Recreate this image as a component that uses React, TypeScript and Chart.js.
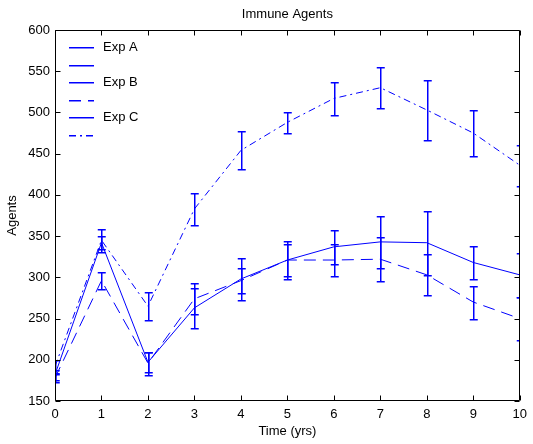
import React, { useEffect, useRef } from "react";
import { Chart, registerables } from "chart.js";

Chart.register(...registerables);

const years = [0, 1, 2, 3, 4, 5, 6, 7, 8, 9, 10];
const expA = [182, 342, 197, 263, 298, 321, 337, 343, 342, 318, 303];
const expAErr = [6, 8, 12, 24, 25, 23, 21, 32, 39, 20, 27];
const expB = [178, 296, 196, 274, 296, 321, 321, 322, 303, 270, 250];
const expBErr = [5, 10, 14, 19, 15, 19, 19, 27, 25, 20, 26];
const expC = [192, 345, 265, 383, 454, 488, 517, 530, 503, 475, 436];
const expCErr = [8, 14, 17, 19, 23, 13, 20, 25, 36, 28, 25];
const legendLabels = ["Exp A", "", "Exp B", "", "Exp C", ""];
const titleText = "Immune Agents";
const xTitle = "Time (yrs)";
const yTitle = "Agents";

const BLUE = "#0000ff";
const FONT = "'Liberation Sans', Arial, sans-serif";
const DASHED = [12, 7];
const DASHDOT = [7, 4, 2, 4];
const legendDashes = [[], [], [], DASHED, [], DASHDOT];

const errs = [expAErr, expBErr, expCErr];

const decorPlugin = {
  id: "decor",
  afterDatasetsDraw(chart: any) {
    const { ctx, chartArea, scales } = chart;
    const xs = scales.x;
    const ys = scales.y;
    ctx.save();
    ctx.beginPath();
    ctx.rect(chartArea.left, chartArea.top, chartArea.right - chartArea.left, chartArea.bottom - chartArea.top);
    ctx.clip();
    ctx.strokeStyle = BLUE;
    ctx.lineWidth = 1.5;
    ctx.setLineDash([]);
    chart.data.datasets.forEach((ds: any, di: number) => {
      ds.data.forEach((p: any, i: number) => {
        const e = errs[di][i];
        const px = Math.round(xs.getPixelForValue(p.x)) + 0.75;
        const y1 = Math.round(ys.getPixelForValue(p.y + e)) + 0.75;
        const y2 = Math.round(ys.getPixelForValue(p.y - e)) + 0.75;
        ctx.beginPath();
        ctx.moveTo(px, y1);
        ctx.lineTo(px, y2);
        ctx.moveTo(px - 4, y1);
        ctx.lineTo(px + 4, y1);
        ctx.moveTo(px - 4, y2);
        ctx.lineTo(px + 4, y2);
        ctx.stroke();
      });
    });
    ctx.restore();
  },
  afterDraw(chart: any) {
    const { ctx, chartArea, scales } = chart;
    const { left, right, top, bottom } = chartArea;
    const xs = scales.x;
    const ys = scales.y;
    ctx.save();
    ctx.strokeStyle = "#000";
    ctx.lineWidth = 1;
    ctx.setLineDash([]);
    const L = Math.round(left) + 0.5;
    const R = Math.round(right) - 0.5;
    const T = Math.round(top) + 0.5;
    const B = Math.round(bottom) - 0.5;
    ctx.beginPath();
    ctx.rect(L, T, R - L, B - T);
    ctx.stroke();
    const tl = 5;
    ctx.beginPath();
    xs.ticks.forEach((t: any) => {
      const px = Math.round(xs.getPixelForValue(t.value)) + 0.5;
      ctx.moveTo(px, B);
      ctx.lineTo(px, B - tl);
      ctx.moveTo(px, T);
      ctx.lineTo(px, T + tl);
    });
    ys.ticks.forEach((t: any) => {
      const py = Math.round(ys.getPixelForValue(t.value)) + 0.5;
      ctx.moveTo(L, py);
      ctx.lineTo(L + tl, py);
      ctx.moveTo(R, py);
      ctx.lineTo(R - tl, py);
    });
    ctx.stroke();

    ctx.fillStyle = "#000";
    ctx.font = `13px ${FONT}`;
    ctx.textAlign = "center";
    ctx.textBaseline = "middle";
    const cx = (left + right) / 2;
    ctx.fillText(titleText, cx, 14);
    ctx.fillText(xTitle, cx, 431);
    ctx.save();
    ctx.translate(12, (top + bottom) / 2);
    ctx.rotate(-Math.PI / 2);
    ctx.fillText(yTitle, 0, 0);
    ctx.restore();

    ctx.textAlign = "left";
    ctx.lineWidth = 1.5;
    legendLabels.forEach((lab, i) => {
      const y = Math.round(47 + i * 17.6) + 0.75;
      ctx.strokeStyle = BLUE;
      ctx.setLineDash(legendDashes[i]);
      ctx.beginPath();
      ctx.moveTo(69, y);
      ctx.lineTo(94, y);
      ctx.stroke();
      if (lab) {
        ctx.fillStyle = "#000";
        ctx.fillText(lab, 103, y);
      }
    });
    ctx.restore();
  },
};

export default function App() {
  const ref = useRef<HTMLCanvasElement | null>(null);
  useEffect(() => {
    if (!ref.current) return;
    const mk = (vals: number[]) => years.map((x, i) => ({ x, y: vals[i] }));
    const chart = new Chart(ref.current, {
      type: "line",
      data: {
        datasets: [
          { label: "Exp A", data: mk(expA), borderColor: BLUE, borderWidth: 1, pointRadius: 0, tension: 0 },
          { label: "Exp B", data: mk(expB), borderColor: BLUE, borderWidth: 1, pointRadius: 0, tension: 0, borderDash: DASHED },
          { label: "Exp C", data: mk(expC), borderColor: BLUE, borderWidth: 1, pointRadius: 0, tension: 0, borderDash: DASHDOT },
        ],
      },
      options: {
        responsive: false,
        animation: false,
        layout: { padding: { top: 30, right: 8, left: 0, bottom: 0 } },
        plugins: { legend: { display: false }, title: { display: false }, tooltip: { enabled: false } },
        scales: {
          x: {
            type: "linear",
            min: 0,
            max: 10,
            grid: { display: false, drawTicks: false },
            border: { display: false },
            ticks: { stepSize: 1, padding: 6, color: "#000", font: { family: FONT, size: 13 }, maxRotation: 0 },
            afterFit: (s: any) => { s.height = 43; },
          },
          y: {
            min: 150,
            max: 600,
            grid: { display: false, drawTicks: false },
            border: { display: false },
            ticks: { stepSize: 50, padding: 5, color: "#000", font: { family: FONT, size: 13 } },
            afterFit: (s: any) => { s.width = 55; },
          },
        },
      },
      plugins: [decorPlugin],
    } as any);
    return () => chart.destroy();
  }, []);
  return (
    <div style={{ position: "fixed", left: 0, top: 0, width: 533, height: 444, background: "#fff" }}>
      <canvas ref={ref} width={533} height={444} style={{ display: "block" }} />
    </div>
  );
}
